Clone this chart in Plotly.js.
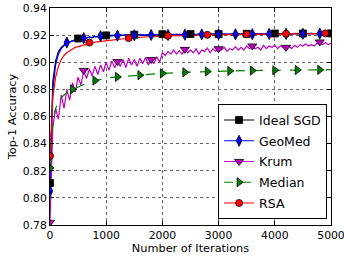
<!DOCTYPE html>
<html>
<head>
<meta charset="utf-8">
<script src="https://cdn.plot.ly/plotly-3.0.1.min.js"></script>
<style>html,body{margin:0;padding:0;background:#fff;}#chart{width:344px;height:257px;}</style>
</head>
<body>
<div id="chart"></div>
<script>
const iterations = [0,50,100,150,200,250,300,350,400,450,500,550,600,650,700,750,800,850,900,950,
1000,1050,1100,1150,1200,1250,1300,1350,1400,1450,1500,1550,1600,1650,1700,1750,1800,1850,1900,1950,
2000,2050,2100,2150,2200,2250,2300,2350,2400,2450,2500,2550,2600,2650,2700,2750,2800,2850,2900,2950,
3000,3050,3100,3150,3200,3250,3300,3350,3400,3450,3500,3550,3600,3650,3700,3750,3800,3850,3900,3950,
4000,4050,4100,4150,4200,4250,4300,4350,4400,4450,4500,4550,4600,4650,4700,4750,4800,4850,4900,4950,5000];

const idealSGD = [0.811,0.886,0.901,0.908,0.911,0.913,0.9145,0.915,0.916,0.9165,0.9175,0.917,0.918,0.9178,0.9185,0.918,0.919,0.9188,0.9195,0.919,
0.9198,0.9192,0.9200,0.9195,0.9202,0.9196,0.9201,0.9198,0.9204,0.9197,0.9203,0.9199,0.9205,0.9198,0.9202,0.9200,0.9206,0.9199,0.9203,0.9201,
0.9207,0.9200,0.9204,0.9202,0.9206,0.9201,0.9205,0.9203,0.9207,0.9202,0.9208,0.9203,0.9206,0.9204,0.9208,0.9203,0.9207,0.9205,0.9209,0.9204,
0.9208,0.9205,0.9209,0.9204,0.9208,0.9206,0.9210,0.9205,0.9209,0.9206,0.9210,0.9206,0.9209,0.9207,0.9211,0.9206,0.9210,0.9207,0.9211,0.9208,
0.9212,0.9207,0.9211,0.9208,0.9212,0.9208,0.9211,0.9209,0.9213,0.9208,0.9212,0.9209,0.9213,0.9209,0.9212,0.9210,0.9213,0.9209,0.9212,0.9210,0.9213];

const geoMed = [0.805,0.880,0.898,0.906,0.910,0.9125,0.9145,0.915,0.9158,0.9165,0.917,0.9172,0.9178,0.918,0.9185,0.9183,0.919,0.9187,0.9193,0.9191,
0.9196,0.9199,0.9193,0.9201,0.9196,0.9203,0.9197,0.9204,0.9198,0.9203,0.9199,0.9205,0.9200,0.9204,0.9199,0.9206,0.9201,0.9205,0.9200,0.9206,
0.9202,0.9207,0.9201,0.9206,0.9203,0.9207,0.9202,0.9208,0.9203,0.9207,0.9204,0.9209,0.9204,0.9208,0.9205,0.9209,0.9204,0.9210,0.9205,0.9209,
0.9206,0.9210,0.9205,0.9210,0.9206,0.9211,0.9206,0.9210,0.9207,0.9211,0.9207,0.9212,0.9207,0.9211,0.9208,0.9212,0.9208,0.9212,0.9209,0.9213,
0.9208,0.9212,0.9209,0.9213,0.9209,0.9213,0.9210,0.9213,0.9209,0.9214,0.9210,0.9213,0.9210,0.9214,0.9210,0.9213,0.9211,0.9214,0.9210,0.9213,0.9212];

const krum = [0.782,0.852,0.866,0.858,0.876,0.866,0.880,0.872,0.885,0.878,0.889,0.883,0.894,0.888,0.895,0.890,0.897,0.891,0.898,0.893,
0.900,0.894,0.901,0.896,0.9005,0.897,0.902,0.896,0.903,0.898,0.902,0.897,0.903,0.899,0.9035,0.898,0.902,0.899,0.904,0.900,
0.907,0.905,0.908,0.906,0.909,0.906,0.9085,0.906,0.9095,0.907,0.909,0.907,0.910,0.906,0.909,0.908,0.9105,0.907,0.910,0.908,
0.910,0.909,0.911,0.908,0.910,0.909,0.9115,0.909,0.911,0.909,0.912,0.910,0.912,0.910,0.911,0.909,0.9125,0.910,0.912,0.911,
0.9125,0.910,0.912,0.911,0.911,0.912,0.910,0.9125,0.911,0.913,0.912,0.9135,0.912,0.913,0.912,0.914,0.915,0.913,0.9145,0.913,0.914];

const median = [0.822,0.857,0.866,0.871,0.874,0.876,0.8775,0.879,0.880,0.881,0.882,0.883,0.884,0.8848,0.8855,0.886,0.8865,0.887,0.8875,0.888,
0.8883,0.8886,0.8888,0.889,0.8892,0.8894,0.8896,0.8897,0.8899,0.890,0.8902,0.8904,0.8905,0.8907,0.8908,0.8910,0.8912,0.8913,0.8915,0.8916,
0.8918,0.8919,0.8920,0.8921,0.8922,0.8923,0.8924,0.8925,0.8926,0.8927,0.8928,0.8929,0.8930,0.8930,0.8931,0.8932,0.8932,0.8933,0.8933,0.8934,
0.8934,0.8935,0.8935,0.8935,0.8936,0.8936,0.8937,0.8937,0.8937,0.8938,0.8938,0.8938,0.8939,0.8939,0.8939,0.8940,0.8940,0.8940,0.8940,0.8941,
0.8941,0.8941,0.8941,0.8942,0.8942,0.8942,0.8942,0.8942,0.8943,0.8943,0.8943,0.8943,0.8943,0.8944,0.8944,0.8944,0.8944,0.8944,0.8944,0.8945,0.8945];

const rsa = [0.831,0.874,0.889,0.897,0.902,0.905,0.907,0.9085,0.910,0.911,0.9115,0.912,0.9128,0.9132,0.9145,0.914,0.9148,0.915,0.9155,0.9157,
0.916,0.9162,0.9165,0.9163,0.9168,0.9170,0.9172,0.9175,0.9178,0.9180,0.9182,0.9181,0.9185,0.9186,0.9188,0.9187,0.9190,0.9189,0.9192,0.9191,
0.9194,0.9193,0.9195,0.9194,0.9197,0.9196,0.9198,0.9197,0.9199,0.9198,0.9200,0.9199,0.9201,0.9200,0.9202,0.9200,0.9202,0.9201,0.9203,0.9202,
0.9204,0.9202,0.9204,0.9203,0.9205,0.9203,0.9205,0.9204,0.9206,0.9204,0.9206,0.9205,0.9207,0.9205,0.9207,0.9206,0.9208,0.9206,0.9208,0.9207,
0.9209,0.9207,0.9209,0.9208,0.9210,0.9208,0.9210,0.9209,0.9211,0.9209,0.9211,0.9210,0.9212,0.9210,0.9212,0.9211,0.9212,0.9211,0.9213,0.9212,0.9213];

const seriesNames = ['Ideal SGD','GeoMed','Krum','Median','RSA'];
const xTicks = [0,1000,2000,3000,4000,5000];
const yTicks = [0.78,0.80,0.82,0.84,0.86,0.88,0.90,0.92,0.94];
const yTickLabels = ['0.78','0.80','0.82','0.84','0.86','0.88','0.90','0.92','0.94'];

const seriesData = [idealSGD, geoMed, krum, median, rsa];
const styles = [
  {color:'#000000', symbol:'square', size:7, dash:'solid', every:10},
  {color:'#0000ff', symbol:'diamond-tall', size:8, dash:'solid', every:6},
  {color:'#bf00bf', symbol:'triangle-down', size:8, dash:'solid', every:12},
  {color:'#008000', symbol:'triangle-right', size:8, dash:'dash', every:8},
  {color:'#ff0000', symbol:'circle', size:7, dash:'solid', every:14}
];

const traces = [];
seriesData.forEach((ys, i) => {
  const s = styles[i];
  traces.push({x: iterations, y: ys, mode:'lines', showlegend:false, hoverinfo:'skip',
    line:{color:s.color, width:1.2, dash:s.dash}});
});
seriesData.forEach((ys, i) => {
  const s = styles[i];
  const mx = [], my = [];
  iterations.forEach((it, k) => { if (k % s.every === 0) { mx.push(it); my.push(ys[k]); } });
  traces.push({x: mx, y: my, mode:'markers', showlegend:false,
    marker:{symbol:s.symbol, size:s.size, color:s.color, line:{color:'#000000', width:0.8}}});
});
seriesData.forEach((ys, i) => {
  const s = styles[i];
  traces.push({x:[null], y:[null], mode:'lines+markers', name: seriesNames[i], legendgroup:'g'+i,
    line:{color:s.color, width:1.2, dash:s.dash},
    marker:{symbol:s.symbol, size:s.size, color:s.color, line:{color:'#000000', width:0.8}}});
});

const fontFam = 'DejaVu Sans, sans-serif';
const layout = {
  width:344, height:257,
  margin:{l:50, r:13, t:8, b:32},
  paper_bgcolor:'#ffffff', plot_bgcolor:'#ffffff',
  font:{family:fontFam, size:11, color:'#000000'},
  xaxis:{range:[0,5000], tickvals:xTicks, ticktext:xTicks.map(String), ticklabeloverflow:'allow',
    showline:true, linecolor:'#000', linewidth:1, mirror:'ticks', ticks:'inside', ticklen:4, tickcolor:'#000',
    showgrid:true, gridcolor:'#000', gridwidth:0.6, griddash:'dot', zeroline:false,
    title:{text:'Number of Iterations', font:{size:11.3}, standoff:2}, tickfont:{size:10.8}},
  yaxis:{range:[0.78,0.94], tickvals:yTicks, ticktext:yTickLabels,
    showline:true, linecolor:'#000', linewidth:1, mirror:'ticks', ticks:'inside', ticklen:4, tickcolor:'#000',
    showgrid:true, gridcolor:'#000', gridwidth:0.6, griddash:'dot', zeroline:false,
    title:{text:'Top-1 Accuracy', font:{size:11.3}, standoff:3}, tickfont:{size:10.8}},
  legend:{x:0.986, y:0.026, xanchor:'right', yanchor:'bottom', bgcolor:'#ffffff',
    bordercolor:'#000', borderwidth:1, font:{size:12.5}, tracegroupgap:1.5},
  showlegend:true
};
Plotly.newPlot('chart', traces, layout, {displayModeBar:false, staticPlot:true});
</script>
</body>
</html>
